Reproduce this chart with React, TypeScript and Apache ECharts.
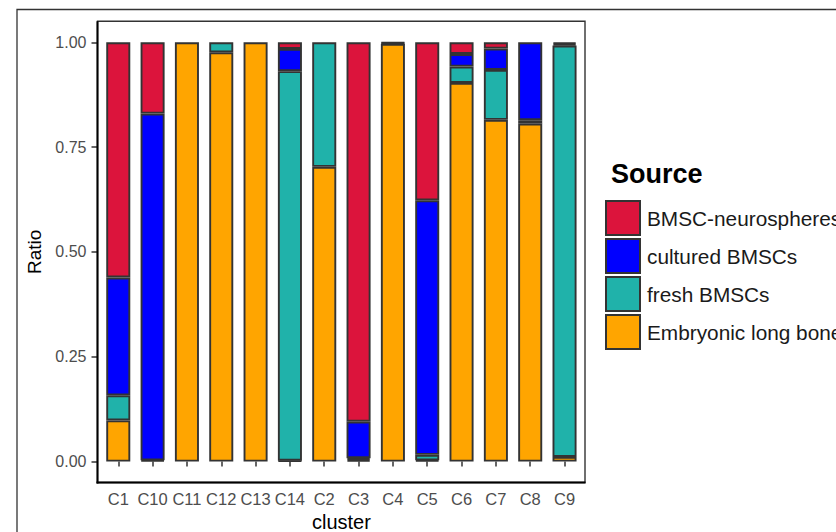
import React, { useEffect, useRef } from "react";
import * as echarts from "echarts";

const categories = ["C1", "C10", "C11", "C12", "C13", "C14", "C2", "C3", "C4", "C5", "C6", "C7", "C8", "C9"];
const seriesNames = ["BMSC-neurospheres", "cultured BMSCs", "fresh BMSCs", "Embryonic long bone"];
const embryonic = [0.098, 0.003, 1.0, 0.976, 1.0, 0.002, 0.703, 0.004, 0.996, 0.003, 0.903, 0.815, 0.806, 0.011];
const fresh = [0.06, 0, 0, 0.024, 0, 0.929, 0.297, 0.004, 0.002, 0.013, 0.039, 0.119, 0.008, 0.981];
const cultured = [0.281, 0.827, 0, 0, 0, 0.053, 0, 0.087, 0, 0.607, 0.03, 0.051, 0.186, 0.004];
const neuro = [0.561, 0.17, 0, 0, 0, 0.016, 0, 0.905, 0.002, 0.377, 0.028, 0.015, 0, 0.004];
const yTicks = [0, 0.25, 0.5, 0.75, 1];

const colors: Record<string, string> = {
  "BMSC-neurospheres": "#DC143C",
  "cultured BMSCs": "#0000FF",
  "fresh BMSCs": "#20B2AA",
  "Embryonic long bone": "#FFA500",
};

const FONT = "'Liberation Sans', Arial, Helvetica, sans-serif";

export default function App() {
  const ref = useRef<HTMLDivElement>(null);
  useEffect(() => {
    if (!ref.current) return;
    const chart = echarts.init(ref.current, null, { renderer: "svg" });
    const stackOrder: [string, number[]][] = [
      ["Embryonic long bone", embryonic],
      ["fresh BMSCs", fresh],
      ["cultured BMSCs", cultured],
      ["BMSC-neurospheres", neuro],
    ];
    const series = stackOrder.map(([name, vals]) => ({
      name,
      type: "bar",
      stack: "total",
      barWidth: "70%",
      data: vals.map((v) => (v === 0 ? null : v)),
      itemStyle: { color: colors[name], borderColor: "#333333", borderWidth: 1.9 },
    }));
    chart.setOption({
      animation: false,
      backgroundColor: "#ffffff",
      textStyle: { fontFamily: FONT },
      title: {
        text: "Source",
        left: 611,
        top: 160.5,
        padding: 0,
        textStyle: { fontSize: 27, lineHeight: 27, fontWeight: "bold", color: "#000000", fontFamily: FONT },
      },
      legend: {
        orient: "vertical",
        left: 605,
        top: 200,
        padding: 0,
        icon: "rect",
        itemWidth: 34,
        itemHeight: 34,
        itemGap: 2,
        data: seriesNames,
        selectedMode: false,
        textStyle: { fontSize: 20.8, lineHeight: 22, color: "#1a1a1a", fontFamily: FONT, padding: [0, 0, 0, 2] },
      },
      grid: { left: 101.1, right: 254.3, top: 21.3, bottom: 49.5, outerBoundsMode: "none", containLabel: false },
      xAxis: {
        type: "category",
        data: categories,
        name: "cluster",
        nameLocation: "middle",
        nameGap: 29,
        nameTextStyle: { fontSize: 20, lineHeight: 20, color: "#000000", fontFamily: FONT, verticalAlign: "top" },
        axisLine: { show: false },
        axisTick: { show: true, alignWithLabel: true, length: 5, lineStyle: { color: "#333333", width: 1.5 } },
        axisLabel: { interval: 0, fontSize: 16.5, color: "#4D4D4D", margin: 8, fontFamily: FONT },
      },
      yAxis: {
        type: "value",
        min: -0.05,
        max: 1.05,
        offset: 3.6,
        name: "Ratio",
        nameLocation: "middle",
        nameGap: 52,
        nameTextStyle: { fontSize: 19, color: "#000000", fontFamily: FONT },
        splitLine: { show: false },
        axisLine: { show: false },
        axisTick: { show: true, customValues: yTicks, length: 6, lineStyle: { color: "#333333", width: 1.5 } },
        axisLabel: {
          customValues: yTicks,
          fontSize: 16,
          color: "#4D4D4D",
          margin: 11,
          fontFamily: FONT,
          formatter: (v: number) => v.toFixed(2),
        },
      },
      graphic: [
        {
          type: "rect",
          shape: { x: 17, y: 9.5, width: 900, height: 600 },
          style: { fill: "none", stroke: "#333333", lineWidth: 1.3 },
          silent: true,
        },
        {
          type: "rect",
          shape: { x: 97.5, y: 21.3, width: 487.5, height: 461.2 },
          style: { fill: "none", stroke: "#333333", lineWidth: 1.4 },
          silent: true,
          z: 10,
        },
        {
          type: "line",
          shape: { x1: 97.5, y1: 21.3, x2: 97.5, y2: 483.5 },
          style: { stroke: "#000000", lineWidth: 2 },
          silent: true,
          z: 11,
        },
        {
          type: "line",
          shape: { x1: 96.5, y1: 482.5, x2: 585.5, y2: 482.5 },
          style: { stroke: "#000000", lineWidth: 2 },
          silent: true,
          z: 11,
        },
      ],
      series,
    });
    return () => chart.dispose();
  }, []);
  return (
    <div
      ref={ref}
      style={{ position: "absolute", left: 0, top: 0, width: 836, height: 532, background: "#fff" }}
    />
  );
}
